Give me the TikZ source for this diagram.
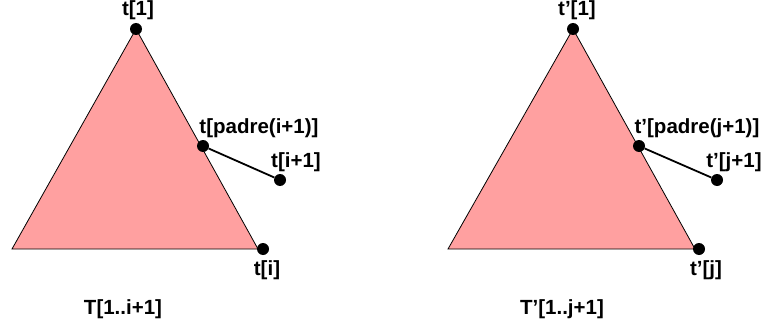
\documentclass[tikz,border=0pt]{standalone}
\usepackage{fontspec}
\setmainfont{Liberation Sans}
\usetikzlibrary{positioning}
\definecolor{treefill}{HTML}{FFA0A0}

\begin{document}
\begin{tikzpicture}[x=1pt, y=-1pt,
  dot/.style={circle, fill=black, inner sep=0pt, minimum size=12pt},
  lbl/.style={font=\fontsize{20.5}{22}\selectfont\bfseries, inner sep=0pt},
  tri/.style={draw=black, line width=0.8pt, fill=treefill},
  link/.style={line width=1.8pt}
]
  \useasboundingbox (0,0) rectangle (763,329);

  % left tree
  \coordinate (lapex) at (136,29);
  \coordinate (lleft) at (12,249);
  \coordinate (lright) at (258,249);
  \draw[tri] (lapex) -- (lleft) -- (lright) -- cycle;
  \node[dot] (lroot) at (lapex) {};
  \node[dot] (lpad)  at (203,146) {};
  \node[dot] (lnext) at (280,180) {};
  \node[dot] (llast) at (263,249) {};
  \draw[link] (lpad) -- (lnext);
  \node[lbl] (lrootlbl) at (138,10) {t[1]};
  \node[lbl] (lpadlbl)  at (259,128) {t[padre(i+1)]};
  \node[lbl] (lnextlbl) at (296,162) {t[i+1]};
  \node[lbl] (llastlbl) at (267,270) {t[i]};
  \node[lbl] (ltitle)   at (123,309) {T[1..i+1]};

  % right tree
  \coordinate (rapex) at (573,29);
  \coordinate (rleft) at (448,249);
  \coordinate (rright) at (695,249);
  \draw[tri] (rapex) -- (rleft) -- (rright) -- cycle;
  \node[dot] (rroot) at (rapex) {};
  \node[dot] (rpad)  at (639,146) {};
  \node[dot] (rnext) at (717,180) {};
  \node[dot] (rlast) at (699,249) {};
  \draw[link] (rpad) -- (rnext);
  \node[lbl] (rrootlbl) at (577,10) {t’[1]};
  \node[lbl] (rpadlbl)  at (697,128) {t’[padre(j+1)]};
  \node[lbl] (rnextlbl) at (734,162) {t’[j+1]};
  \node[lbl] (rlastlbl) at (706,270) {t’[j]};
  \node[lbl] (rtitle)   at (562,309) {T’[1..j+1]};
\end{tikzpicture}
\end{document}
